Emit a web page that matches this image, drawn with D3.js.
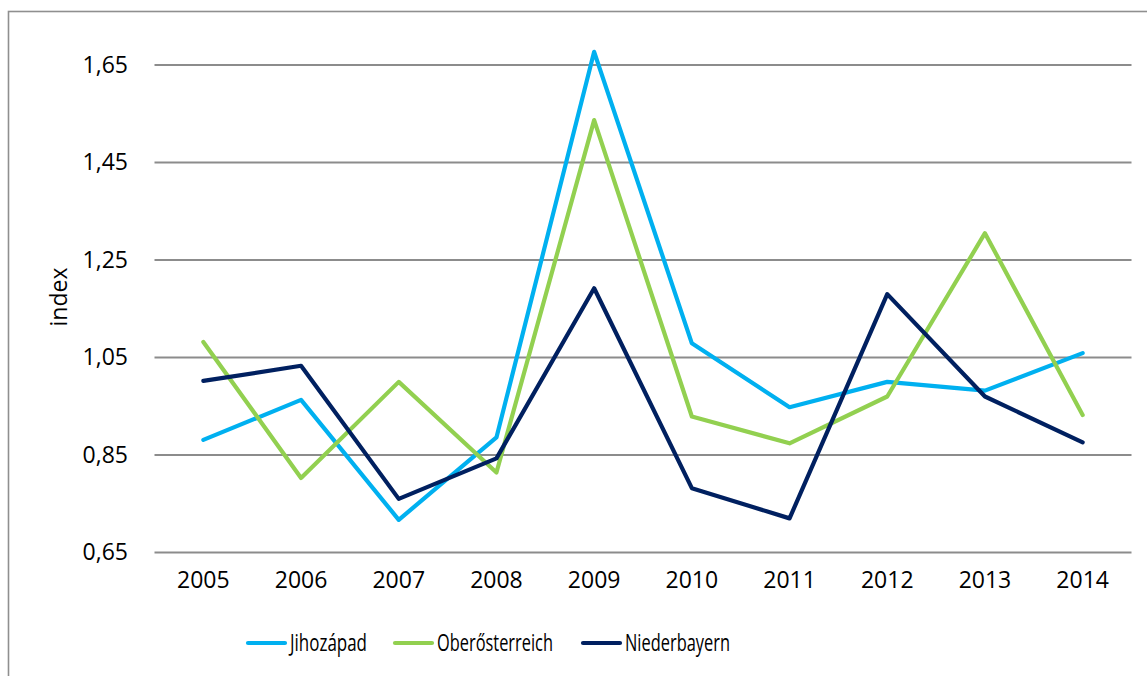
<!DOCTYPE html>
<html>
<head>
<meta charset="utf-8">
<script src="https://cdn.jsdelivr.net/npm/d3@7"></script>
<style>
  body { margin: 0; background: #fff; }
  text { font-family: "Open Sans", "Liberation Sans", sans-serif; fill: #000; }
</style>
</head>
<body>
<svg class="chart" width="1147" height="676"></svg>
<script>
// the years along the x axis
var years = ["2005", "2006", "2007", "2008", "2009", "2010", "2011", "2012", "2013", "2014"];
// index values for each region
var jihozapad = [0.881, 0.963, 0.717, 0.886, 1.677, 1.079, 0.948, 1.0, 0.982, 1.059];
var oberosterreich = [1.082, 0.803, 1.0, 0.814, 1.537, 0.929, 0.874, 0.97, 1.305, 0.932];
var niederbayern = [1.002, 1.033, 0.76, 0.843, 1.192, 0.782, 0.72, 1.18, 0.97, 0.876];
// y tick values
var yTicks = [0.65, 0.85, 1.05, 1.25, 1.45, 1.65];

var series = [
  { name: "Jihozápad", values: jihozapad, color: "#00B0F0" },
  { name: "Oberősterreich", values: oberosterreich, color: "#92D050" },
  { name: "Niederbayern", values: niederbayern, color: "#002060" }
];

var svg = d3.select("svg.chart");

// outer frame, runs off the right and bottom of the picture
svg.append("rect")
    .attr("x", 8.5).attr("y", 11.5)
    .attr("width", 1200).attr("height", 700)
    .style("fill", "none")
    .style("stroke", "#8f8f8f")
    .style("stroke-width", 1.6);

var x = d3.scaleBand().domain(years).range([154.5, 1131.5]);
var y = d3.scaleLinear().domain([0.65, 1.65]).range([552.5, 65]);

// gridlines
svg.selectAll("line.grid")
    .data(yTicks)
  .enter().append("line")
    .attr("class", "grid")
    .attr("x1", 154.5).attr("x2", 1131.5)
    .attr("y1", function(d) { return y(d); })
    .attr("y2", function(d) { return y(d); })
    .style("stroke", "#8c8c8c")
    .style("stroke-width", 1.8);

// y axis labels
var fmt = function(d) { return d3.format(".2f")(d).replace(".", ","); };
var yAxis = d3.axisLeft(y).tickValues(yTicks).tickFormat(fmt).tickSize(0).tickPadding(0);
var gy = svg.append("g").attr("transform", "translate(128,0)").call(yAxis);
gy.select(".domain").remove();
gy.selectAll("text")
    .style("font-size", "23px")
    .style("font-family", "'Open Sans', sans-serif")
    .attr("fill", "#000");

// x axis labels
var xAxis = d3.axisBottom(x).tickSize(0).tickPadding(0);
var gx = svg.append("g").attr("transform", "translate(0,572)").call(xAxis);
gx.select(".domain").remove();
gx.selectAll("text")
    .style("font-size", "23px")
    .style("font-family", "'Open Sans', sans-serif")
    .attr("fill", "#000");

// axis title
svg.append("text")
    .attr("transform", "translate(67,297) rotate(-90)")
    .attr("text-anchor", "middle")
    .style("font-size", "23px")
    .text("index");

// lines
var line = d3.line()
    .x(function(d, i) { return x(years[i]) + x.bandwidth() / 2; })
    .y(function(d) { return y(d); });

svg.selectAll("path.series")
    .data(series)
  .enter().append("path")
    .attr("class", "series")
    .attr("d", function(d) { return line(d.values); })
    .style("fill", "none")
    .style("stroke", function(d) { return d.color; })
    .style("stroke-width", 4.2)
    .style("stroke-linejoin", "round")
    .style("stroke-linecap", "round");

// legend
var legendX = [248, 395, 583];
var legendW = [77, 116, 105];
var lg = svg.selectAll("g.legend")
    .data(series)
  .enter().append("g")
    .attr("class", "legend")
    .attr("transform", function(d, i) { return "translate(" + legendX[i] + ",643)"; });

lg.append("line")
    .attr("x1", 0).attr("x2", 37)
    .style("stroke", function(d) { return d.color; })
    .style("stroke-width", 4.2)
    .style("stroke-linecap", "round");

lg.append("text")
    .attr("x", 42).attr("y", 8)
    .attr("textLength", function(d, i) { return legendW[i]; })
    .attr("lengthAdjust", "spacingAndGlyphs")
    .style("font-size", "23px")
    .text(function(d) { return d.name; });
</script>
</body>
</html>
